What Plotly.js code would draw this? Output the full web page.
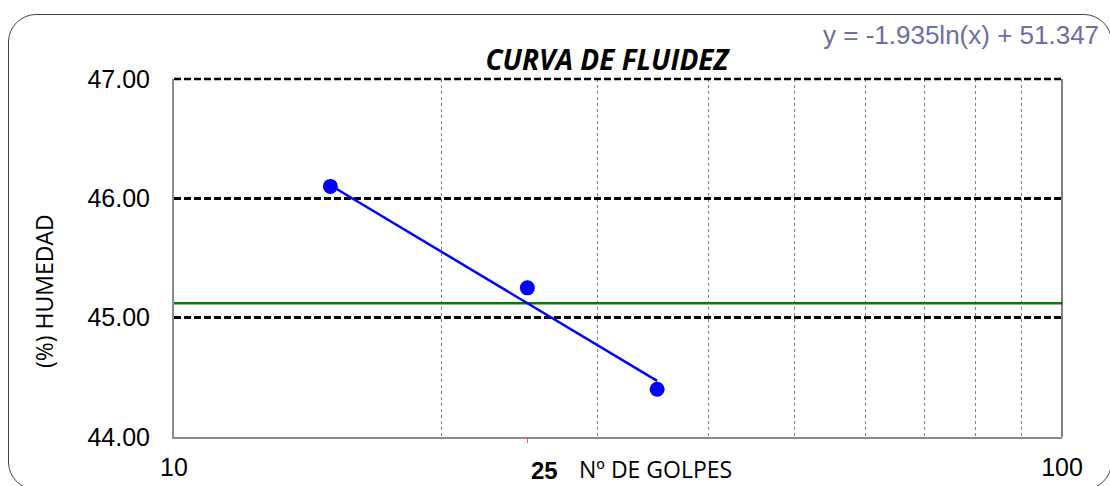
<!DOCTYPE html>
<html>
<head>
<meta charset="utf-8">
<script src="https://cdn.plot.ly/plotly-3.0.1.min.js"></script>
<style>
  html, body { margin: 0; padding: 0; overflow: hidden; background: #fff; }
  #wrap { position: relative; width: 1110px; height: 486px; }
  #chart { width: 1110px; height: 486px; }
  #frame { position: absolute; left: 8px; top: 14px; width: 1104px; height: 476px;
           border: 1.5px solid #404040; border-radius: 28px; pointer-events: none; box-sizing: border-box; }
</style>
</head>
<body>
<div id="wrap">
  <div id="chart"></div>
  <div id="frame"></div>
</div>
<script>
// Data
const golpes = [15, 25, 35];
const humedad = [46.10, 45.25, 44.40];
const trendX = [15, 35];
const trendY = [46.11, 44.47];
const limiteX = [10, 100];
const limiteY = [45.12, 45.12];
const xTickVals = [10, 20, 30, 40, 50, 60, 70, 80, 90, 100];
const xTickText = ['10', '', '', '', '', '', '', '', '', '100'];
const yTickVals = [44, 45, 46, 47];
const yTickText = ['44.00', '45.00', '46.00', '47.00'];
const markVals = [25];
const markText = [''];
const golpesLabel = '<b>25</b>';

const sans = '"Open Sans", "Noto Sans", sans-serif';
const arial = '"Liberation Sans", Arial, sans-serif';

const traces = [
  { x: limiteX, y: limiteY, mode: 'lines', line: { color: '#008000', width: 2.5 }, hoverinfo: 'skip', showlegend: false },
  { x: trendX, y: trendY, mode: 'lines', line: { color: '#0000FF', width: 2.5 }, showlegend: false },
  { x: golpes, y: humedad, mode: 'markers', marker: { color: '#0000FF', size: 15 }, showlegend: false },
  { x: markVals, y: [null], xaxis: 'x2', mode: 'markers', showlegend: false, hoverinfo: 'skip' }
];

const gridDash = '7px,3px';
const gridW = 2.6;

const layout = {
  width: 1110, height: 486,
  margin: { l: 174, r: 48, t: 79, b: 49 },
  paper_bgcolor: '#fff', plot_bgcolor: '#fff',
  showlegend: false,
  title: {
    text: '<b><i>CURVA DE FLUIDEZ</i></b>',
    font: { family: sans, size: 28, color: '#000' },
    x: 607 / 1110, xanchor: 'center', xref: 'container',
    y: 1 - 60 / 486, yanchor: 'middle', yref: 'container'
  },
  xaxis: {
    type: 'log', range: [1, 2],
    tickmode: 'array', tickvals: xTickVals, ticktext: xTickText,
    showgrid: true, gridcolor: '#808080', gridwidth: 1, griddash: 'dot',
    showline: true, linecolor: '#8c8c8c', linewidth: 2,
    ticks: '', zeroline: false,
    tickfont: { family: arial, size: 25, color: '#000' },
    ticklabelstandoff: 7
  },
  xaxis2: {
    type: 'log', range: [1, 2], overlaying: 'x', side: 'bottom',
    tickmode: 'array', tickvals: markVals, ticktext: markText,
    ticks: 'outside', ticklen: 5, tickcolor: '#ff5050', tickwidth: 1,
    showgrid: false, showline: false, zeroline: false
  },
  yaxis: {
    range: [44, 47],
    tickmode: 'array', tickvals: yTickVals, ticktext: yTickText,
    showgrid: true, gridcolor: '#000', gridwidth: gridW, griddash: gridDash,
    showline: true, linecolor: '#8c8c8c', linewidth: 2,
    ticks: '', zeroline: false,
    tickfont: { family: arial, size: 25, color: '#000' },
    ticklabelstandoff: 17
  },
  shapes: [
    { type: 'line', xref: 'paper', yref: 'paper', x0: 1, x1: 1, y0: 0, y1: 1, line: { color: '#000', width: 1 } },
    { type: 'line', xref: 'paper', yref: 'paper', x0: 0, x1: 1, y0: 1, y1: 1, line: { color: '#000', width: gridW, dash: gridDash } }
  ],
  annotations: [
    { text: 'y = -1.935ln(x) + 51.347', xref: 'paper', yref: 'paper', x: (1101 - 174) / 888, y: (437 - 35) / 358,
      xanchor: 'right', yanchor: 'middle', showarrow: false, font: { family: arial, size: 26, color: '#6b6ea3' } },
    { text: golpesLabel, xref: 'paper', yref: 'paper', x: (544 - 174) / 888, y: (437 - 470) / 358,
      xanchor: 'center', yanchor: 'middle', showarrow: false, font: { family: arial, size: 24, color: '#000' } },
    { text: 'Nº DE GOLPES', xref: 'paper', yref: 'paper', x: (655 - 174) / 888, y: (437 - 469) / 358,
      xanchor: 'center', yanchor: 'middle', showarrow: false, font: { family: sans, size: 23, color: '#000' } },
    { text: '(%) HUMEDAD', xref: 'paper', yref: 'paper', x: (44 - 174) / 888, y: (437 - 291) / 358,
      xanchor: 'center', yanchor: 'middle', textangle: -90, showarrow: false, font: { family: sans, size: 23, color: '#000' } }
  ]
};

Plotly.newPlot('chart', traces, layout, { staticPlot: true, displayModeBar: false });
</script>
</body>
</html>
